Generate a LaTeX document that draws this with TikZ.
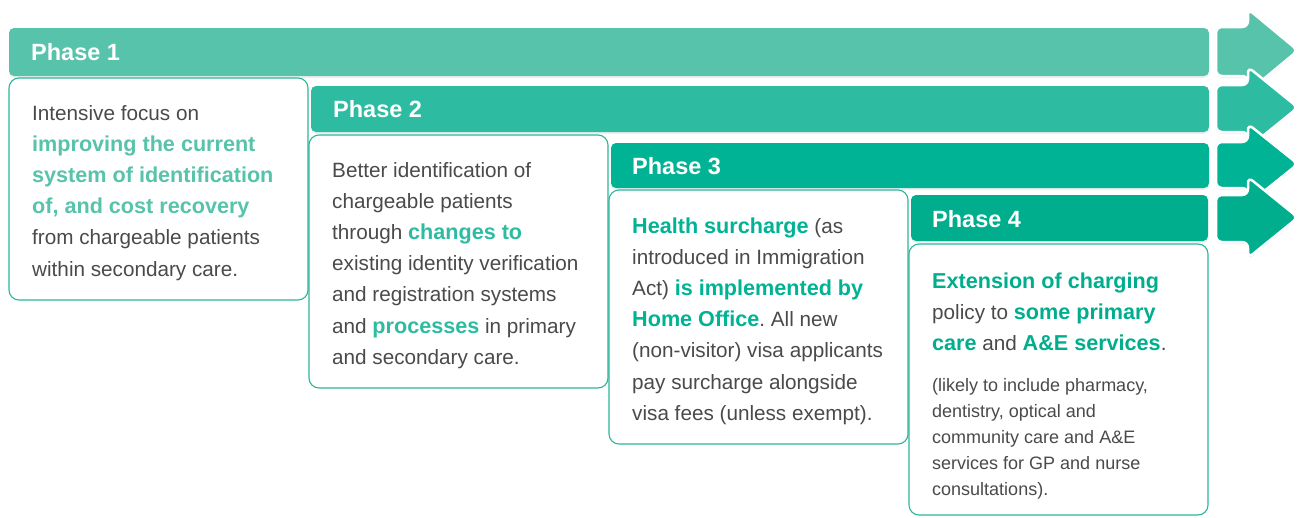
\documentclass[tikz,border=0pt]{standalone}
\usepackage{fontspec}
\setmainfont{Liberation Sans}
\usetikzlibrary{shadows}
\definecolor{cA}{HTML}{58C3AB}
\definecolor{cB}{HTML}{2DBCA1}
\definecolor{cC}{HTML}{00B394}
\definecolor{cD}{HTML}{00AE8E}
\definecolor{txt}{HTML}{4A4A4A}
\definecolor{boxline}{HTML}{2AB89B}
\frenchspacing
\newcommand\hl[2]{{\color{#1}\bfseries\fontsize{21.6}{31.2}\selectfont #2}}
\newcommand\bodytext[1]{\parbox[t]{285pt}{\raggedright\fontsize{20.7}{31.2}\selectfont\leavevmode #1}}
\begin{document}
\begin{tikzpicture}[x=1pt,y=-1pt,
  bar/.style={rounded corners=5pt, drop shadow={opacity=0.12, shadow xshift=0pt, shadow yshift=-2pt}},
  desc/.style={fill=white, draw=boxline, line width=1.1pt, rounded corners=10pt},
  arrowshape/.style={draw=white, line width=2.5pt, rounded corners=6pt, drop shadow={opacity=0.14, shadow xshift=0pt, shadow yshift=-2pt}},
  phaselabel/.style={anchor=base west, inner sep=0pt, text=white, font=\bfseries\fontsize{23.5}{28}\selectfont},
  txtnode/.style={anchor=base west, inner sep=0pt, text=txt}]
\useasboundingbox (0,0) rectangle (1298,517);
\fill[white] (0,0) rectangle (1298,517);

% arrows
\fill[cA, arrowshape] (1216,27) -- (1248,27) -- (1248,9) -- (1298,50.5) -- (1248,92) -- (1248,76) -- (1216,76) -- cycle;
\fill[cB, arrowshape] (1216,85) -- (1248,85) -- (1248,67) -- (1298,107.5) -- (1248,148) -- (1248,132) -- (1216,132) -- cycle;
\fill[cC, arrowshape] (1216,142) -- (1248,142) -- (1248,124) -- (1298,164) -- (1248,204) -- (1248,188) -- (1216,188) -- cycle;
\fill[cD, arrowshape] (1216,195) -- (1248,195) -- (1248,177) -- (1298,217.5) -- (1248,258) -- (1248,242) -- (1216,242) -- cycle;

% bars
\fill[cA, bar] (9,28) rectangle (1209,76);
\fill[cB, bar] (311,86) rectangle (1209,132);
\fill[cC, bar] (611,143) rectangle (1209,188);
\fill[cD, bar] (911,195) rectangle (1208,241);

% description boxes
\draw[desc] (9,78) rectangle (308,300);
\draw[desc] (309,135) rectangle (608,388);
\draw[desc] (609,190) rectangle (908,444);
\draw[desc] (909,244) rectangle (1208,515);

% phase labels
\node[phaselabel] (p1) at (31,60.5) {Phase 1};
\node[phaselabel] (p2) at (333,117) {Phase 2};
\node[phaselabel] (p3) at (632,174.5) {Phase 3};
\node[phaselabel] (p4) at (932,227.5) {Phase 4};

% texts
\node[txtnode] (t1) at (32,120) {\bodytext{Intensive focus on\\
\hl{cA}{improving the current}\\
\hl{cA}{system of identification}\\
\hl{cA}{of, and cost recovery}\\
from chargeable patients\\
within secondary care.}};

\node[txtnode] (t2) at (332,177) {\bodytext{Better identification of\\
chargeable patients\\
through \hl{cB}{changes to}\\
existing identity verification\\
and registration systems\\
and \hl{cB}{processes} in primary\\
and secondary care.}};

\node[txtnode] (t3) at (632,233) {\bodytext{\hl{cC}{Health surcharge} (as\\
introduced in Immigration\\
Act) \hl{cC}{is implemented by}\\
\hl{cC}{Home Office}. All new\\
(non-visitor) visa applicants\\
pay surcharge alongside\\
visa fees (unless exempt).}};

\node[txtnode] (t4) at (932,288) {\bodytext{\hl{cD}{Extension of charging}\\
policy to \hl{cD}{some primary}\\
\hl{cD}{care} and \hl{cD}{A\&E services}.}};

\node[txtnode] (t4s) at (932,391.5) {\parbox[t]{270pt}{\raggedright\fontsize{18}{26}\selectfont\leavevmode (likely to include pharmacy,\\
dentistry, optical and\\
community care and A\&E\\
services for GP and nurse\\
consultations).}};
\end{tikzpicture}
\end{document}
